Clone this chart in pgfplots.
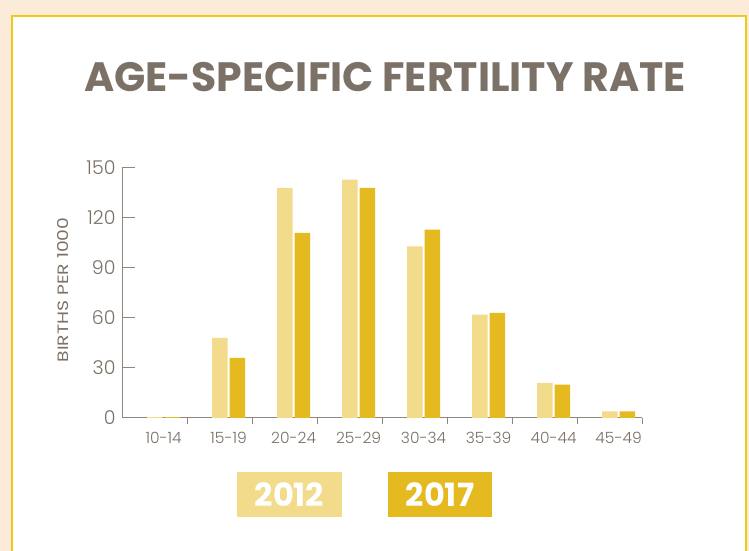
\documentclass[border=0pt]{standalone}
\usepackage{fontspec}
\setmainfont{Poppins}
\newfontfamily\lightfont{Poppins Light}
\usepackage{pgfplots}
\pgfplotsset{compat=1.18}
\definecolor{peach}{HTML}{FDEBDA}
\definecolor{frame}{HTML}{EEC918}
\definecolor{lightbar}{HTML}{F2DC8C}
\definecolor{darkbar}{HTML}{E5B920}
\definecolor{txt}{HTML}{7B7167}
\definecolor{axisgray}{HTML}{8F867E}
\begin{document}
\begin{tikzpicture}
\useasboundingbox (0pt,0pt) rectangle (749pt,551pt);
\fill[peach] (0pt,0pt) rectangle (749pt,551pt);
\fill[white] (12pt,0pt) rectangle (746pt,535pt);
\draw[frame, line width=2.5pt] (12pt,-10pt) rectangle (746pt,535pt);
\node[anchor=base, text=txt, inner sep=0pt, font=\bfseries\fontsize{41}{41}\selectfont] at (385pt,459pt) {AGE-SPECIFIC FERTILITY RATE};
\begin{axis}[
  at={(122pt,133pt)}, anchor=south west,
  scale only axis, width=520pt, height=250pt,
  xmin=-0.64, xmax=7.36, ymin=0, ymax=150,
  axis x line*=bottom, axis y line*=left,
  axis line style={draw=axisgray, line width=1pt, -},
  tick align=inside,
  major tick length=13pt, minor tick length=6pt,
  ytick={0,30,60,90,120,150},
  y tick style={draw=axisgray, line width=1pt},
  xtick={0,...,7},
  xticklabels={10-14,15-19,20-24,25-29,30-34,35-39,40-44,45-49},
  major x tick style={draw=none},
  minor xtick={0.37,1.37,2.37,3.37,4.37,5.37,6.37,7.36},
  minor x tick style={draw=axisgray, line width=1pt},
  /pgf/number format/assume math mode=true,
  yticklabel style={font=\lightfont\fontsize{19}{19}\selectfont, text=txt, xshift=-3pt},
  xticklabel style={font=\lightfont\fontsize{15.5}{15.5}\selectfont, text=txt, yshift=2pt},
  ylabel={\scalebox{1.25}[1]{BIRTHS PER 1000}},
  ylabel style={at={(axis description cs:-0.1135,0.512)}, anchor=center, font=\fontsize{15}{15}\selectfont, text=txt},
  ybar=2pt, bar width=15.5pt,
  clip=false,
]
\addplot[fill=lightbar, draw=none] coordinates {(0,0.5) (1,48) (2,138) (3,143) (4,103) (5,62) (6,21) (7,4)};
\addplot[fill=darkbar, draw=none] coordinates {(0,0.5) (1,36) (2,111) (3,138) (4,113) (5,63) (6,20) (7,4)};
\end{axis}
\node[fill=lightbar, text=white, minimum width=105pt, minimum height=45pt, inner sep=0pt, font=\bfseries\fontsize{32}{32}\selectfont] at (289.5pt,56.5pt) {2012};
\node[fill=darkbar, text=white, minimum width=104pt, minimum height=45pt, inner sep=0pt, font=\bfseries\fontsize{32}{32}\selectfont] at (440pt,56.5pt) {2017};
\end{tikzpicture}
\end{document}
